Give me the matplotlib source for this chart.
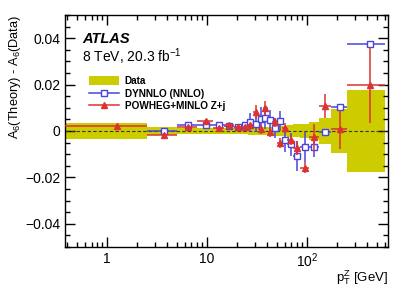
import numpy as np
import matplotlib
matplotlib.use("Agg")
import matplotlib.pyplot as plt
from matplotlib.patches import Patch
from matplotlib.lines import Line2D
from matplotlib.ticker import FixedLocator, NullFormatter, MultipleLocator

plt.rcParams['font.family'] = ['Liberation Sans', 'DejaVu Sans']
plt.rcParams['mathtext.fontset'] = 'custom'
plt.rcParams['mathtext.rm'] = 'Liberation Sans'
plt.rcParams['mathtext.it'] = 'Liberation Sans:italic'
plt.rcParams['mathtext.bf'] = 'Liberation Sans:bold'

# pT(Z) bin edges [GeV]
edges = np.array([0, 2.5, 5, 8, 11.4, 14.9, 18.5, 22, 25.5, 29, 32.6, 36.4, 40.4,
                  44.9, 50.2, 56.4, 63.9, 73.4, 85.4, 105, 132, 173, 253, 600])

# data uncertainty band (half width)
data_unc = [0.0034, 0.0016, 0.0014, 0.0013, 0.0013, 0.0013, 0.0014, 0.0015, 0.0016,
            0.0016, 0.0017, 0.0018, 0.0019, 0.0020, 0.0021, 0.0023, 0.0026, 0.0028,
            0.0031, 0.0040, 0.0055, 0.0093, 0.0175]

# DYNNLO (NNLO) - data
dynnlo = [np.nan, -0.0002, 0.0026, 0.0025, 0.0027, 0.0022, 0.0017, 0.0024, 0.0037,
          0.0030, 0.0050, 0.0057, 0.0046, 0.0013, 0.0043, -0.0040, -0.0057, -0.0108,
          -0.0068, -0.0068, -0.0006, 0.0105, 0.0375]
dynnlo_err = [0, 0.0008, 0.0010, 0.0016, 0.0012, 0.0012, 0.0012, 0.0014, 0.0040,
              0.0036, 0.0055, 0.0050, 0.0045, 0.0045, 0.0045, 0.0050, 0.0050, 0.0065,
              0.0065, 0.0045, 0.0015, 0.0008, 0.0010]

# POWHEG+MINLO Z+j - data
powheg = [0.0022, -0.0018, 0.0017, 0.0042, 0.0012, 0.0024, 0.0019, 0.0015, 0.0024,
          0.0083, 0.0007, 0.0101, -0.0006, 0.0037, -0.0052, 0.0013, -0.0039, -0.0072,
          -0.0158, -0.0028, 0.0108, 0.0007, 0.0198]
powheg_err = [0.0006, 0.0008, 0.0008, 0.0010, 0.0008, 0.0008, 0.0010, 0.0010, 0.0012,
              0.0030, 0.0020, 0.0030, 0.0020, 0.0020, 0.0020, 0.0020, 0.0020, 0.0030,
              0.0025, 0.0060, 0.0050, 0.0085, 0.0165]

xmin, xmax = 0.38, 650
yellow = '#cccc00'
blue = '#4646dc'
red = '#dc3232'

fig = plt.figure(figsize=(4.09, 2.94), dpi=100)
ax = fig.add_axes([0.159, 0.16, 0.79, 0.789])

lo = np.maximum(edges[:-1], xmin)
hi = edges[1:]
centers = 0.5 * (edges[:-1] + edges[1:])
unc = np.array(data_unc)

ax.bar(lo, 2 * unc, width=hi - lo, bottom=-unc, align='edge',
       color=yellow, edgecolor='none', zorder=1)
ax.axhline(0, color='#333333', lw=0.8, ls=(0, (3, 2)), zorder=2)

xerr = [centers - lo, hi - centers]
ax.errorbar(centers, dynnlo, yerr=dynnlo_err, xerr=xerr, fmt='s', color=blue,
            mfc='white', mec=blue, ms=4, mew=1.0, elinewidth=1.1, capsize=0, zorder=3)
ax.errorbar(centers, powheg, yerr=powheg_err, xerr=xerr, fmt='^', color=red,
            mfc=red, mec=red, ms=4, elinewidth=1.1, capsize=0, zorder=4)

ax.set_xscale('log')
ax.set_xlim(xmin, xmax)
ax.set_ylim(-0.05, 0.05)

ax.xaxis.set_major_locator(FixedLocator([1, 10, 100]))
ax.set_xticklabels(['1', '10', '10$^{2}$'])
ax.xaxis.set_minor_locator(FixedLocator(
    [v * d for d in [0.1, 1, 10, 100] for v in range(2, 10) if xmin < v * d < xmax]))
ax.xaxis.set_minor_formatter(NullFormatter())
ax.yaxis.set_major_locator(MultipleLocator(0.02))
ax.yaxis.set_minor_locator(MultipleLocator(0.005))
ax.set_yticks([-0.04, -0.02, 0, 0.02, 0.04])
ax.set_yticklabels(['\u22120.04', '\u22120.02', '0', '0.02', '0.04'])

ax.tick_params(which='both', direction='in', top=True, right=True, labelsize=10, width=1.0)
ax.tick_params(which='major', length=7)
ax.tick_params(which='minor', length=3.5)
for s in ax.spines.values():
    s.set_linewidth(1.0)

ax.set_ylabel('A$_{6}$(Theory) - A$_{6}$(Data)', fontsize=9.2, loc='top')
ax.yaxis.set_label_coords(-0.13, 1.0)
ax.set_xlabel('p$_{\\mathrm{T}}^{\\mathrm{Z}}$ [GeV]', fontsize=9.5, loc='right')
ax.xaxis.set_label_coords(1.0, -0.09)

fig.text(0.2, 0.853, 'ATLAS', fontsize=10.5, fontweight='bold', style='italic')
fig.text(0.2, 0.79, '8 TeV, 20.3 fb$^{-1}$', fontsize=10)

handles = [
    Patch(facecolor=yellow, edgecolor='none'),
    Line2D([], [], color=blue, marker='s', mfc='white', mec=blue, ms=4, lw=1.1),
    Line2D([], [], color=red, marker='^', mfc=red, mec=red, ms=4, lw=1.1),
]
labels = ['Data', 'DYNNLO (NNLO)', 'POWHEG+MINLO Z+j']
leg = fig.legend(handles, labels, loc='upper left', bbox_to_anchor=(0.208, 0.755),
                 frameon=False, prop={'weight': 'bold', 'size': 7.2},
                 handlelength=3.0, handleheight=1.0, labelspacing=0.25,
                 handletextpad=0.55, borderaxespad=0)

fig.savefig('out.png', dpi=100)
